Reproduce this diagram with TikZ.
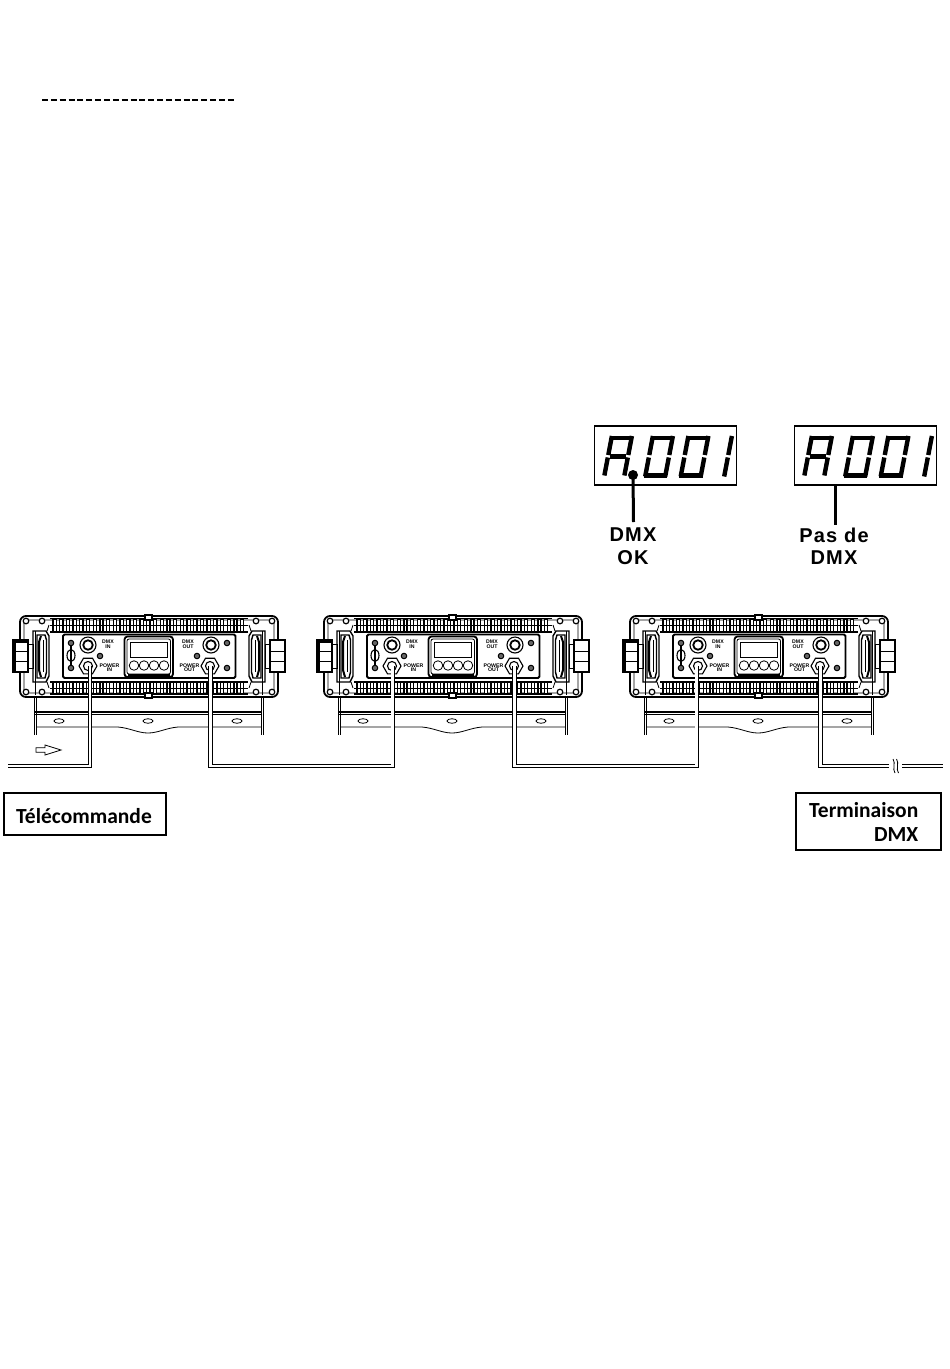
\documentclass[tikz,border=0pt]{standalone}
\usepackage{fontspec}
\setmainfont{Liberation Sans}
\newfontfamily\boxfont{Carlito}[BoldFont={Carlito Bold}]
\newfontfamily\labfont[LetterSpace=6]{Liberation Sans Bold}
\usetikzlibrary{shapes.geometric}
\tikzset{
  x=1pt,y=-1pt,
  thin line/.style={line width=0.8pt},
  med line/.style={line width=1.2pt},
  heavy line/.style={line width=1.6pt},
  cable/.style={double=white,draw=black,double distance=2.8pt,line width=0.75pt,miter limit=10},
  tiny label/.style={font=\bfseries\fontsize{5.2}{4.6}\selectfont,align=center,inner sep=0pt},
  nutshape/.style={regular polygon,regular polygon sides=6,draw,line width=1.1pt,minimum size=18pt,inner sep=0pt},
  roundnut/.style={circle,draw,line width=1.1pt,minimum size=16pt,inner sep=0pt},
  ringshape/.style={circle,draw,line width=1.8pt,minimum size=9.5pt,inner sep=0pt},
  screwdot/.style={circle,draw,fill=black!60,line width=1pt,minimum size=5.5pt,inner sep=0pt},
  btnshape/.style={circle,draw,line width=0.8pt,minimum size=9.5pt,inner sep=0pt},
  slotshape/.style={ellipse,draw,line width=0.8pt,minimum width=10pt,minimum height=4.5pt,inner sep=0pt},
  seg/.style={line width=4.4pt,line cap=butt},
  callbox/.style={draw,line width=1.6pt,inner sep=0pt},
  fixture/.pic={
    % bracket
    \draw[thin line] (35,697)--(262,697);
    \draw[med line] (35,712)--(262,712) (35,714.5)--(262,714.5);
    \draw[thin line] (34,692)--(34,735) (36.5,692)--(36.5,735);
    \draw[thin line] (261,692)--(261,735) (263.5,692)--(263.5,735);
    \draw[thin line] (36,727)--(118,727) .. controls (130,728) and (138,733) .. (148,733) .. controls (158,733) and (166,728) .. (178,727) -- (261,727);
    \node[slotshape] (-s1) at (59,721) {};
    \node[slotshape] (-s2) at (148,721) {};
    \node[slotshape] (-s3) at (237,721) {};
    % body
    \draw[fill=white,line width=1.8pt,rounded corners=6pt] (20,616)--(278,616)--(278,697)--(20,697)--cycle;
    \draw[thin line,rounded corners=3pt] (24,620)--(274,620)--(274,693)--(24,693)--cycle;
    % knobs
    \draw[fill=white,line width=1.6pt] (13,640) rectangle (28,672);
    \draw[line width=3.5pt] (14,640)--(14,672) (13,641)--(28,641);
    \draw[thin line] (13,651)--(28,651) (13,661)--(28,661);
    \draw[fill=white,line width=1.4pt] (270,640) rectangle (285,672);
    \draw[line width=2pt] (284.5,641)--(284.5,671);
    \draw[thin line] (270,651)--(285,651) (270,661)--(285,661);
    \draw[thin line] (28,644)--(33,644)--(33,668)--(28,668);
    \draw[thin line] (270,644)--(265,644)--(265,668)--(270,668);
    % handles
    \draw[line width=1.4pt] (33,631)--(46,631)--(49,636)--(49,676)--(46,682)--(33,682)--cycle;
    \draw[line width=1.4pt] (37,635)--(45,635)--(46.5,640)--(46.5,672)--(45,678)--(37,678)--cycle;
    \draw[line width=2pt] (41,636)--(39,642)--(39,670)--(41,677);
    \draw[thin line] (43,640)--(43,672);
    \draw[thin line] (35.5,631)--(35.5,695);
    \draw[line width=1.4pt] (265,631)--(252,631)--(249,636)--(249,676)--(252,682)--(265,682)--cycle;
    \draw[line width=1.4pt] (261,635)--(253,635)--(251.5,640)--(251.5,672)--(253,678)--(261,678)--cycle;
    \draw[line width=2pt] (257,636)--(259,642)--(259,670)--(257,677);
    \draw[thin line] (255,640)--(255,672);
    \draw[thin line] (262.5,631)--(262.5,695);
    \draw[thin line] (49,625)--(47,631) (49,688)--(47,682) (249,625)--(251,631) (249,688)--(251,682);
    % corners
    \foreach \cx/\cy in {26/621,42/621,256/621,272/621,26/692,42/692,256/692,272/692}
      \draw[med line,fill=white] (\cx,\cy) circle (2.8);
    % fin rows
    \draw[med line] (50,618.6)--(248,618.6) (50,632)--(248,632) (50,682)--(248,682) (50,694)--(248,694);
    \foreach \fx in {53,59.7,...,246}{
      \draw[line width=1.25pt,fill=white] (\fx,619.5) rectangle (\fx+3.2,631.5);
      \draw[line width=1.25pt,fill=white] (\fx,682.5) rectangle (\fx+3.2,693.5);
    }
    \draw[line width=1.6pt] (50,625.5)--(248,625.5) (50,688.5)--(248,688.5);
    \draw[med line,fill=white] (145,615) rectangle (152,620);
    \draw[med line,fill=white] (145,693) rectangle (152,698);
    % panel
    \draw[fill=white,line width=1.8pt,rounded corners=1.5pt] (63,634.5) rectangle (235.5,678);
    % display
    \draw[fill=white,line width=1.8pt,rounded corners=3pt] (124.5,636.5) rectangle (173,677);
    \draw[thin line,rounded corners=2pt] (127,639) rectangle (170.5,674);
    \draw[line width=1pt] (130,642) rectangle (167,657);
    \fill (128,674) rectangle (170,678);
    \node[btnshape] (-b1) at (134,665.5) {};
    \node[btnshape] (-b2) at (144,665.5) {};
    \node[btnshape] (-b3) at (154,665.5) {};
    \node[btnshape] (-b4) at (164,665.5) {};
    % connectors
    \node[roundnut] (-dmxin) at (88,645) {};
    \node[ringshape] at (88,645) {};
    \node[nutshape] (-pwrin) at (88,666) {};
    \node[circle,draw,line width=1.1pt,minimum size=9pt,inner sep=0pt] at (88,666) {};
    \node[roundnut] (-dmxout) at (211,645) {};
    \node[ringshape] at (211,645) {};
    \node[nutshape] (-pwrout) at (210,666) {};
    \node[circle,draw,line width=1.1pt,minimum size=9pt,inner sep=0pt] at (210,666) {};
    % screws
    \node[screwdot] (-m1) at (71,643) {};
    \node[screwdot] (-m2) at (71,668) {};
    \node[screwdot] (-m3) at (100,656) {};
    \node[screwdot] (-m4) at (227,643) {};
    \node[screwdot] (-m5) at (227,668) {};
    \node[screwdot] (-m6) at (197,656) {};
    \node[ellipse,draw,line width=1.1pt,minimum width=8pt,minimum height=12pt,inner sep=0pt] (-m7) at (71,655.5) {};
    \draw[line width=1.6pt] (71,646)--(71,665);
    % labels
    \node[tiny label] at (108,644.5) {DMX\\IN};
    \node[tiny label] at (109.5,667.5) {POWER\\IN};
    \node[tiny label] at (188,644.5) {DMX\\OUT};
    \node[tiny label] at (189.5,667.5) {POWER\\OUT};
    % pins
    \coordinate (-pin) at (88.7,666);
    \coordinate (-pout) at (210.5,666);
  },
}
% upright local frame: (0,0) is the lower left of a digit, y negative goes up
\newcommand{\digA}{%
  \draw[seg] (2,-2)--(2,-20) (2,-22.5)--(2,-41.5) (22,-2)--(22,-20) (22,-22.5)--(22,-41.5);
  \draw[seg] (0.3,-39.8)--(23.7,-39.8) (4,-21.2)--(20,-21.2);}
\newcommand{\digO}{%
  \draw[seg] (2,-1)--(2,-20) (2,-22.5)--(2,-41.5) (22,-1)--(22,-20) (22,-22.5)--(22,-41.5);
  \draw[seg] (0.3,-39.8)--(23.7,-39.8) (0.3,-2)--(23.7,-2);}
\newcommand{\digI}{%
  \draw[seg] (2,-1)--(2,-20) (2,-22.5)--(2,-41.5);}
\newcommand{\dispdigits}[1]{%
  \begin{scope}[shift={(#1,477.5)},xslant=0.19]
    \digA
    \begin{scope}[shift={(41,0)}]\digO\end{scope}
    \begin{scope}[shift={(76.5,0)}]\digO\end{scope}
    \begin{scope}[shift={(120,0)}]\digI\end{scope}
  \end{scope}}
\begin{document}
\begin{tikzpicture}
\useasboundingbox (0,0) rectangle (950,1369);
\fill[white] (0,0) rectangle (950,1369);
% dashed rule
\coordinate (ruleA) at (42,100);
\coordinate (ruleB) at (235,100);
\draw[line width=1.5pt,dash pattern=on 6pt off 2.85pt] (ruleA)--(ruleB);
% displays
\node[draw,line width=1.6pt,minimum width=142pt,minimum height=59pt,inner sep=0pt] (disp1) at (665.5,455.5) {};
\node[draw,line width=1.6pt,minimum width=142pt,minimum height=59pt,inner sep=0pt] (disp2) at (865.5,455.5) {};
\dispdigits{602}
\dispdigits{802}
\node[circle,fill=black,minimum size=10pt,inner sep=0pt] (dot) at (633,475) {};
\node[font=\labfont\fontsize{20}{20}\selectfont,inner sep=0pt] (lab1a) at (633,535) {DMX};
\node[font=\labfont\fontsize{20}{20}\selectfont,inner sep=0pt] (lab1b) at (633,558) {OK};
\node[font=\labfont\fontsize{20}{20}\selectfont,inner sep=0pt] (lab2a) at (834,535) {Pas de};
\node[font=\labfont\fontsize{20}{20}\selectfont,inner sep=0pt] (lab2b) at (834,558) {DMX};
\coordinate (lead1) at (633.5,522);
\coordinate (lead2) at (835.7,525);
\draw[line width=3pt] (dot.center)--(lead1);
\draw[line width=3pt] (835.7,485)--(lead2);
% fixtures
\pic (f1) at (0,0) {fixture};
\pic (f2) at (304,0) {fixture};
\pic (f3) at (610,0) {fixture};
% arrow
\draw[line width=0.8pt] (36,747.7)--(45,747.7)--(45,745)--(61,750)--(45,755)--(45,752.3)--(36,752.3)--cycle;
% cables
\coordinate (y1) at (0,766);
\coordinate (inEnd) at (8,766);
\coordinate (f1-in) at ([xshift=1.3pt]f1-pin);
\coordinate (f3-in) at ([xshift=-2pt]f3-pin);
\draw[cable] (f1-in) |- (inEnd);
\draw[cable] (f1-pout) |- (f2-pin |- y1) -- (f2-pin);
\draw[cable] (f2-pout) |- (f3-in |- y1) -- (f3-in);
\coordinate (brkA) at (889,766);
\coordinate (brkB) at (902,766);
\coordinate (outEnd) at (943,766);
\draw[cable] (f3-pout) |- (brkA);
\draw[cable] (brkB)--(outEnd);
\draw[thin line] (893,759) .. controls (896,763) and (892,769) .. (895,773);
\draw[thin line] (896.5,759) .. controls (899.5,763) and (895.5,769) .. (898.5,773);
% call-outs
\node[callbox,minimum width=162pt,minimum height=42pt] (remote) at (85,814) {};
\node[font=\boxfont\bfseries\fontsize{21.5}{22}\selectfont,inner sep=0pt] (remoteT) at (84,816) {Télécommande};
\node[callbox,minimum width=145pt,minimum height=57pt] (term) at (868.7,821.5) {};
\node[font=\boxfont\bfseries\fontsize{21.5}{22}\selectfont,anchor=east,inner sep=0pt] (t1) at (918.5,810) {Terminaison};
\node[font=\boxfont\bfseries\fontsize{21.5}{22}\selectfont,anchor=east,inner sep=0pt] (t2) at (918.5,835) {DMX};
\end{tikzpicture}
\end{document}
